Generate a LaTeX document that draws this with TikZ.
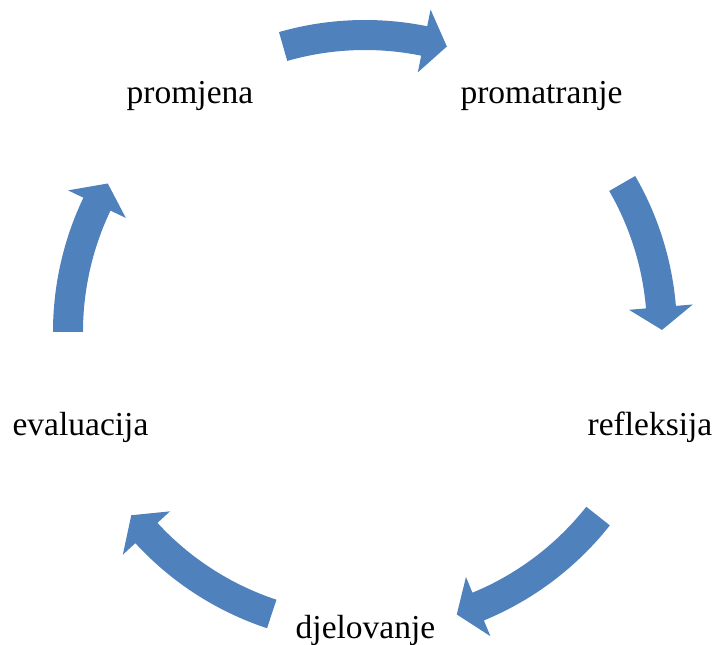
\documentclass[tikz,border=0pt]{standalone}
\usepackage{fontspec}
\setmainfont{Liberation Serif}
\usetikzlibrary{positioning}

\definecolor{cycleblue}{RGB}{79,129,189}

% curved block arrow on the ring: tail angle, head base angle, tip angle
\newcommand{\cyclearrow}[3]{%
  \fill[cycleblue] (#1:282) arc[start angle=#1, end angle=#2, radius=282]
    -- (#2:265) -- (#3:297) -- (#2:329) -- (#2:312)
    arc[start angle=#2, end angle=#1, radius=312] -- cycle;}

\begin{document}
\begin{tikzpicture}[x=1pt, y=1pt,
    stage/.style={anchor=base, inner sep=0pt, font=\fontsize{33.5}{40}\selectfont}]
    \useasboundingbox (-365,-313) rectangle (350,332);
    \fill[white] (-365,-313) rectangle (350,332);

    \node[stage] (promjena) at (-175,228) {promjena};
    \node[stage] (promatranje) at (176.5,228) {promatranje};
    \node[stage] (refleksija) at (285,-103) {refleksija};
    \node[stage] (djelovanje) at (0.5,-306) {djelovanje};
    \node[stage] (evaluacija) at (-284.5,-103) {evaluacija};

    \cyclearrow{106}{78.5}{74}
    \cyclearrow{30}{4.8}{0.4}
    \cyclearrow{-38.3}{-67.6}{-72}
    \cyclearrow{-108.3}{-137.4}{-141.9}
    \cyclearrow{180}{154.5}{150}
\end{tikzpicture}
\end{document}
